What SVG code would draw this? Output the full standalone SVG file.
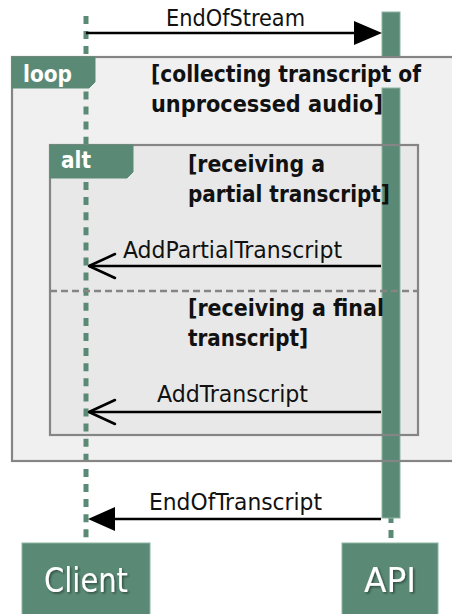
<svg xmlns="http://www.w3.org/2000/svg" width="452" height="614" viewBox="0 0 452 614">
<defs>
<style>
.t{font-family:"DejaVu Sans Condensed","DejaVu Sans",sans-serif;fill:#111}
.msg{font-size:23px}
.cond{font-size:23px;font-weight:bold}
.tab{font-size:23px;font-weight:bold;fill:#fff}
.part{font-size:34px;fill:#fff}
.frame{stroke:#858585;stroke-width:2.2}
.tabbg{fill:#5a8a75;stroke:#5a8a75;stroke-width:1}
.life{stroke:#5a8a75;stroke-width:5;stroke-dasharray:8 7.1;fill:none}
.bar{fill:#5a8a75;stroke:#8db3a1;stroke-width:1}
.line{stroke:#000;stroke-width:2.5;fill:none}
.open{stroke:#000;stroke-width:2.5;fill:none;stroke-linecap:round;stroke-linejoin:round}
</style>
<filter id="sh" x="-10%" y="-10%" width="130%" height="140%">
<feDropShadow dx="1.5" dy="1.5" stdDeviation="1" flood-color="#000" flood-opacity="0.45"/>
</filter>
</defs>
<rect width="452" height="614" fill="#fff"/>

<g id="loop-frame-bg">
<rect x="12" y="57" width="460" height="404" fill="#f0f0f0"/>
</g>
<g id="alt-frame-bg">
<rect x="50" y="145" width="368" height="290" fill="#e8e8e8"/>
</g>

<g id="lifelines">
<line class="life" x1="86" y1="15.9" x2="86" y2="540"/>
<line class="life" x1="391" y1="515" x2="391" y2="538"/>
<rect class="bar" x="382" y="12" width="18" height="45"/>
<rect class="bar" x="382" y="88" width="18" height="430"/>
</g>

<g id="loop">
<rect class="frame" x="12" y="57" width="460" height="404" fill="none"/>
<path class="tabbg" d="M12,57 H95 V82 L89,88 H12 Z"/>
<text class="t tab" x="23" y="82" textLength="49" lengthAdjust="spacingAndGlyphs">loop</text>
<text class="t cond" x="151" y="82" textLength="270" lengthAdjust="spacingAndGlyphs">[collecting transcript of</text>
<text class="t cond" x="151" y="112" textLength="232" lengthAdjust="spacingAndGlyphs">unprocessed audio]</text>
</g>

<g id="alt">
<rect class="frame" x="50" y="145" width="368" height="290" fill="none"/>
<line x1="50" y1="291" x2="418" y2="291" stroke="#858585" stroke-width="2.5" stroke-dasharray="7 4"/>
<path class="tabbg" d="M50,145 H133 V172 L127,178 H50 Z"/>
<text class="t tab" x="61" y="168" textLength="30" lengthAdjust="spacingAndGlyphs">alt</text>
<text class="t cond" x="188" y="172" textLength="137" lengthAdjust="spacingAndGlyphs">[receiving a</text>
<text class="t cond" x="188" y="202" textLength="202" lengthAdjust="spacingAndGlyphs">partial transcript]</text>
<text class="t cond" x="188" y="316" textLength="196" lengthAdjust="spacingAndGlyphs">[receiving a final</text>
<text class="t cond" x="188" y="346" textLength="120" lengthAdjust="spacingAndGlyphs">transcript]</text>
</g>

<g id="connectors">
<g id="msg-endofstream">
<line class="line" x1="86" y1="33" x2="358" y2="33"/>
<polygon points="354,21 382,33 354,45" fill="#000"/>
<text class="t msg" x="166" y="26" textLength="139" lengthAdjust="spacingAndGlyphs">EndOfStream</text>
</g>
<g id="msg-addpartial">
<line class="line" x1="381" y1="266" x2="89" y2="266"/>
<polyline class="open" points="115,254 89,266 115,278"/>
<text class="t msg" x="123" y="258" textLength="219" lengthAdjust="spacingAndGlyphs">AddPartialTranscript</text>
</g>
<g id="msg-addtranscript">
<line class="line" x1="381" y1="412" x2="89" y2="412"/>
<polyline class="open" points="115,400 89,412 115,424"/>
<text class="t msg" x="157" y="402" textLength="151" lengthAdjust="spacingAndGlyphs">AddTranscript</text>
</g>
<g id="msg-endoftranscript">
<line class="line" x1="381" y1="519" x2="110" y2="519"/>
<polygon points="88,519 115,507 115,531" fill="#000"/>
<text class="t msg" x="149" y="510" textLength="173" lengthAdjust="spacingAndGlyphs">EndOfTranscript</text>
</g>
</g>

<g id="client">
<rect x="22" y="543" width="128" height="80" fill="#5a8a75" stroke="#8db3a1" stroke-width="1"/>
<text class="t part" x="86" y="592" text-anchor="middle" textLength="84" lengthAdjust="spacingAndGlyphs" filter="url(#sh)">Client</text>
</g>
<g id="api">
<rect x="342" y="543" width="96" height="80" fill="#5a8a75" stroke="#8db3a1" stroke-width="1"/>
<text class="t part" x="390" y="592" text-anchor="middle" textLength="52" lengthAdjust="spacingAndGlyphs" filter="url(#sh)">API</text>
</g>
</svg>
